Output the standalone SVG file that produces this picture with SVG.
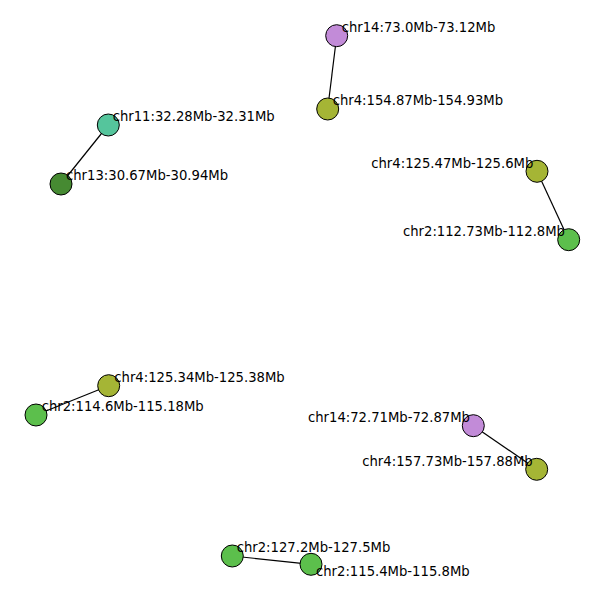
<svg xmlns="http://www.w3.org/2000/svg" width="605" height="601" viewBox="0 0 605 601">
<style>
.n{stroke:#000;stroke-width:1}
.e{stroke:#000;stroke-width:1.2;fill:none}
text{font-family:"DejaVu Sans",sans-serif;font-size:13.2px;fill:#000}
.pu{fill:#c28bd8}.ol{fill:#a5b535}.tg{fill:#55c59c}.dg{fill:#468a32}.gr{fill:#5cbf4c}
</style>
<rect width="605" height="601" fill="#fff"/>
<g id="edges">
<line class="e" x1="336.7" y1="35.7" x2="327.7" y2="109"/>
<line class="e" x1="108.3" y1="125" x2="61" y2="184"/>
<line class="e" x1="537" y1="171.3" x2="568.7" y2="239.7"/>
<line class="e" x1="108.7" y1="385.7" x2="36" y2="415"/>
<line class="e" x1="473.3" y1="425.7" x2="536.7" y2="469.3"/>
<line class="e" x1="232.3" y1="556" x2="311" y2="564.3"/>
</g>
<g id="n1"><circle class="n pu" cx="336.7" cy="35.7" r="11"/><text x="341.7" y="31.7">chr14:73.0Mb-73.12Mb</text></g>
<g id="n2"><circle class="n ol" cx="327.7" cy="109" r="11"/><text x="332.7" y="105">chr4:154.87Mb-154.93Mb</text></g>
<g id="n3"><circle class="n tg" cx="108.3" cy="125" r="11"/><text x="112.7" y="121">chr11:32.28Mb-32.31Mb</text></g>
<g id="n4"><circle class="n dg" cx="61" cy="184" r="11"/><text x="66" y="180">chr13:30.67Mb-30.94Mb</text></g>
<g id="n5"><circle class="n ol" cx="537" cy="171.3" r="11"/><text x="533.3" y="167.7" text-anchor="end">chr4:125.47Mb-125.6Mb</text></g>
<g id="n6"><circle class="n gr" cx="568.7" cy="239.7" r="11"/><text x="565" y="235.7" text-anchor="end">chr2:112.73Mb-112.8Mb</text></g>
<g id="n7"><circle class="n ol" cx="108.7" cy="385.7" r="11"/><text x="114.3" y="381.7">chr4:125.34Mb-125.38Mb</text></g>
<g id="n8"><circle class="n gr" cx="36" cy="415" r="11"/><text x="41.7" y="410.7">chr2:114.6Mb-115.18Mb</text></g>
<g id="n9"><circle class="n pu" cx="473.3" cy="425.7" r="11"/><text x="470" y="421.7" text-anchor="end">chr14:72.71Mb-72.87Mb</text></g>
<g id="n10"><circle class="n ol" cx="536.7" cy="469.3" r="11"/><text x="532.7" y="465.7" text-anchor="end">chr4:157.73Mb-157.88Mb</text></g>
<g id="n11"><circle class="n gr" cx="232.3" cy="556" r="11"/><text x="236.7" y="551.7">chr2:127.2Mb-127.5Mb</text></g>
<g id="n12"><circle class="n gr" cx="311" cy="564.3" r="11"/><text x="316" y="575.7">chr2:115.4Mb-115.8Mb</text></g>
</svg>
